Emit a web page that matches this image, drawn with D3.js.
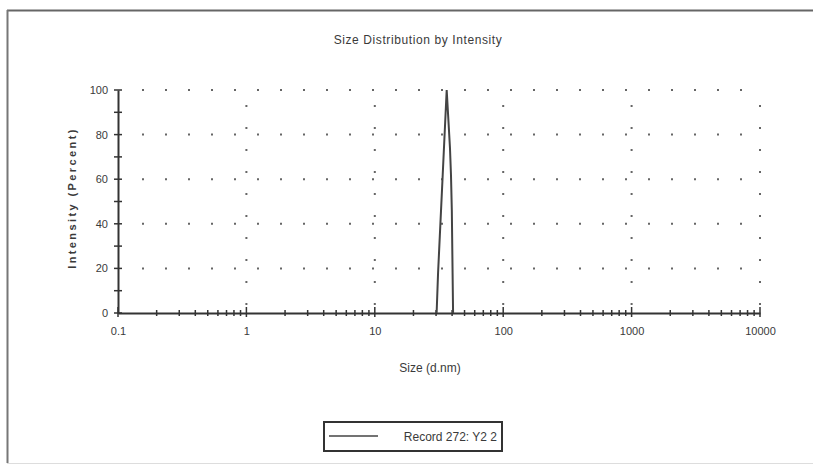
<!DOCTYPE html>
<html>
<head>
<meta charset="utf-8">
<script src="https://cdn.jsdelivr.net/npm/d3@7"></script>
<style>
  body { margin: 0; background: #fff; }
  text { font-family: "Liberation Sans", Arial, sans-serif; fill: #3a3a3a; }
</style>
</head>
<body>
<div id="chart"></div>
<script>
// data
var sizes     = [30.3, 31.1, 33.8, 36.3, 38.5, 39.2, 39.8, 40.7];
var intensity = [0,    18,   62,   100,  74,   62,   46,   0];
var xTicks = [0.1, 1, 10, 100, 1000, 10000];
var yTicks = [0, 20, 40, 60, 80, 100];
var seriesName = "Record 272: Y2 2";

var data = sizes.map(function(s, i) { return {size: s, value: intensity[i]}; });

var W = 813, H = 466;
var svg = d3.select("#chart").append("svg")
    .attr("width", W)
    .attr("height", H);

// outer frame (scan edges)
svg.append("line").attr("x1", 7).attr("x2", W).attr("y1", 10.5).attr("y2", 10.5)
    .style("stroke", "#666").style("stroke-width", 2);
svg.append("line").attr("x1", 7.5).attr("x2", 7.5).attr("y1", 10).attr("y2", 463)
    .style("stroke", "#777").style("stroke-width", 2);
svg.append("line").attr("x1", 7).attr("x2", W).attr("y1", 463.5).attr("y2", 463.5)
    .style("stroke", "#ddd").style("stroke-width", 1);

// scales
var x = d3.scaleLog().domain([0.1, 10000]).range([118, 760]);
var y = d3.scaleLinear().domain([0, 100]).range([313, 90]);

// dotted grid
var grid = svg.append("g").style("stroke", "#666").style("stroke-width", 2);
grid.selectAll(".hgrid")
    .data(yTicks.filter(function(d) { return d > 0; }))
    .enter().append("line")
    .attr("x1", x(0.1) + 24).attr("x2", x(10000))
    .attr("y1", function(d) { return y(d); })
    .attr("y2", function(d) { return y(d); })
    .style("stroke-dasharray", "2,21");
grid.selectAll(".vgrid")
    .data(xTicks.slice(1))
    .enter().append("line")
    .attr("x1", function(d) { return x(d); })
    .attr("x2", function(d) { return x(d); })
    .attr("y1", y(0) - 8).attr("y2", y(100))
    .style("stroke-dasharray", "2,20");

// minor x ticks
var minor = [];
for (var dec = 0.1; dec < 10000; dec *= 10) {
  for (var k = 2; k <= 9; k++) minor.push(dec * k);
}

// x axis
var xAxis = d3.axisBottom(x).tickValues(xTicks).tickFormat(d3.format("")).tickSize(0).tickPadding(14);
var gx = svg.append("g")
    .attr("transform", "translate(0," + y(0) + ")")
    .call(xAxis);
gx.select(".domain").style("stroke", "#333").style("stroke-width", 2);
gx.selectAll("text").style("font-size", "11px").style("font-family", "Liberation Sans, sans-serif");
svg.append("g").selectAll("line")
    .data(minor).enter().append("line")
    .attr("x1", function(d) { return x(d); })
    .attr("x2", function(d) { return x(d); })
    .attr("y1", y(0) - 3).attr("y2", y(0) + 3)
    .style("stroke", "#333").style("stroke-width", 1.5);
svg.append("g").selectAll("line")
    .data(xTicks).enter().append("line")
    .attr("x1", function(d) { return x(d); })
    .attr("x2", function(d) { return x(d); })
    .attr("y1", y(0) - 6).attr("y2", y(0) + 4)
    .style("stroke", "#333").style("stroke-width", 1.5);

// y axis
var yAxis = d3.axisLeft(y).tickValues(yTicks).tickSize(0).tickPadding(10);
var gy = svg.append("g")
    .attr("transform", "translate(" + x(0.1) + ",0)")
    .call(yAxis);
gy.select(".domain").style("stroke", "#333").style("stroke-width", 2);
gy.selectAll("text").style("font-size", "11px").style("font-family", "Liberation Sans, sans-serif");
svg.append("g").selectAll("line")
    .data(d3.range(0, 101, 10)).enter().append("line")
    .attr("x1", x(0.1) - 4).attr("x2", x(0.1) + 4)
    .attr("y1", function(d) { return y(d); })
    .attr("y2", function(d) { return y(d); })
    .style("stroke", "#333").style("stroke-width", 1.5);

// the size distribution line
var line = d3.line()
    .x(function(d) { return x(d.size); })
    .y(function(d) { return y(d.value); });
svg.append("path")
    .datum(data)
    .attr("d", line)
    .style("fill", "none")
    .style("stroke", "#444")
    .style("stroke-width", 2);

// titles
svg.append("text")
    .attr("x", 418).attr("y", 44)
    .attr("text-anchor", "middle")
    .style("font-size", "12px")
    .style("letter-spacing", "0.6px")
    .text("Size Distribution by Intensity");

svg.append("text")
    .attr("x", 430).attr("y", 372)
    .attr("text-anchor", "middle")
    .style("font-size", "12px")
    .text("Size (d.nm)");

svg.append("text")
    .attr("transform", "translate(76,198) rotate(-90)")
    .attr("text-anchor", "middle")
    .style("font-size", "11px")
    .style("font-weight", "bold")
    .style("letter-spacing", "2.4px")
    .text("Intensity (Percent)");

// legend
var legend = svg.append("g").attr("transform", "translate(324,422)");
legend.append("rect")
    .attr("width", 178).attr("height", 29)
    .style("fill", "#fff")
    .style("stroke", "#333").style("stroke-width", 2);
legend.append("line")
    .attr("x1", 5).attr("x2", 54).attr("y1", 14).attr("y2", 14)
    .style("stroke", "#444").style("stroke-width", 1.5);
legend.append("text")
    .attr("x", 173).attr("y", 19)
    .attr("text-anchor", "end")
    .style("font-size", "12px")
    .text(seriesName);
</script>
</body>
</html>
